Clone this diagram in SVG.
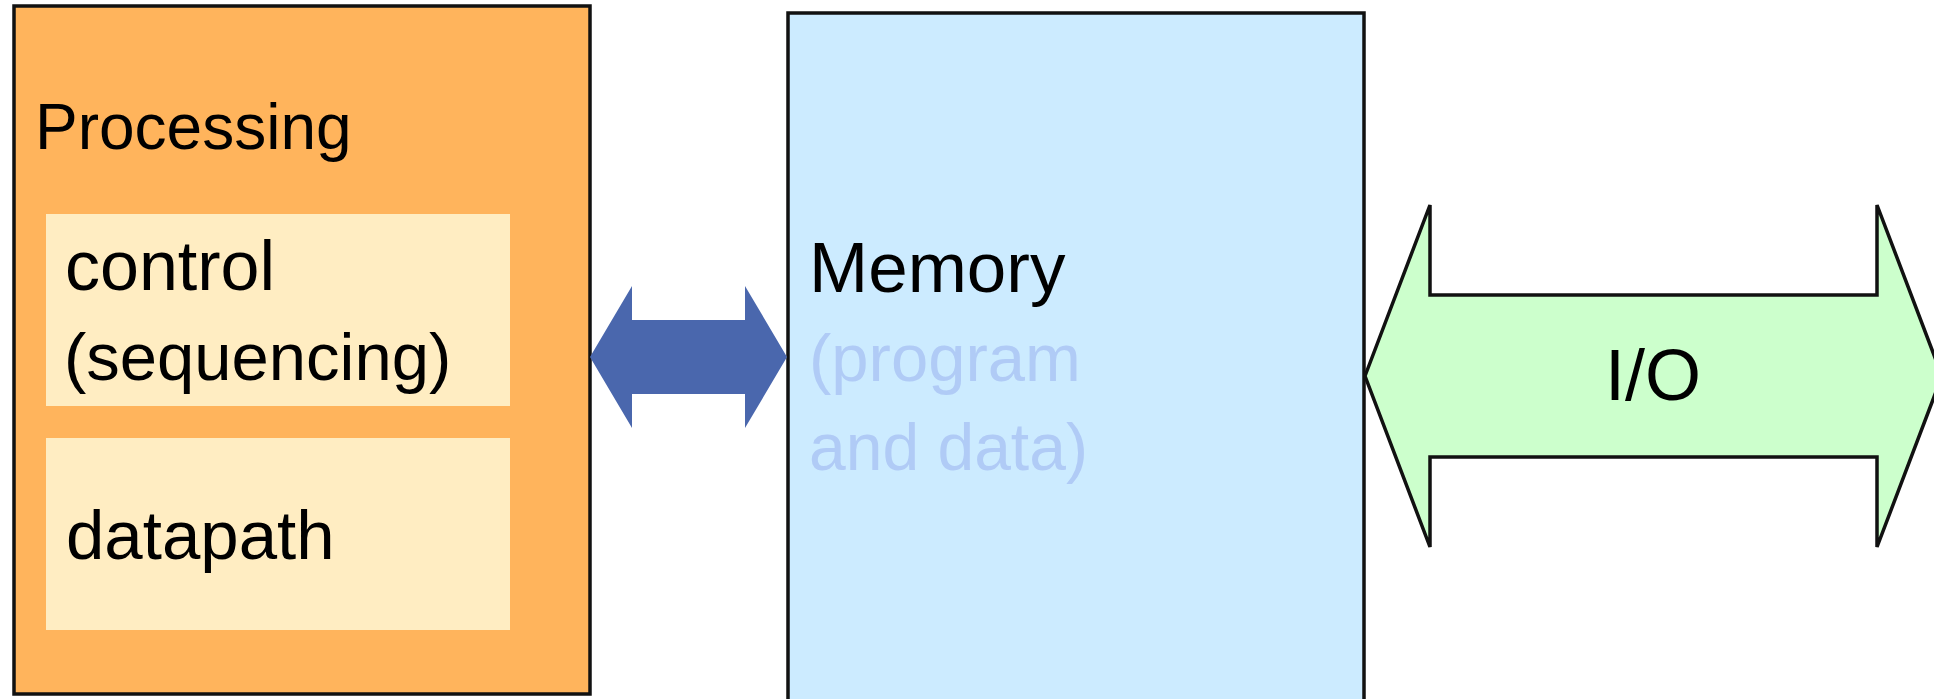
<svg xmlns="http://www.w3.org/2000/svg" width="1934" height="699" viewBox="0 0 1934 699">
  <style>
    .lbl { font-family: "Liberation Sans", Arial, sans-serif; fill: #000; }
    .box { stroke: #111; stroke-width: 3.5; }
    .sub { fill: #FFEDC2; stroke: none; }
    .faint { fill: #B0CBF6; }
  </style>
  <rect width="1934" height="699" fill="#fff"/>

  <!-- processing unit with its two sub-blocks -->
  <g id="processing">
    <rect class="box" x="14" y="6" width="576" height="688" fill="#FFB45C"/>
    <text class="lbl" x="35" y="149" font-size="64">Processing</text>
  </g>
  <g id="control">
    <rect class="sub" x="46" y="214" width="464" height="192"/>
    <text class="lbl" x="65" y="290" font-size="70">control</text>
    <text class="lbl" x="64" y="380" font-size="67">(sequencing)</text>
  </g>
  <g id="datapath">
    <rect class="sub" x="46" y="438" width="464" height="192"/>
    <text class="lbl" x="66" y="559" font-size="69">datapath</text>
  </g>

  <!-- memory block, open at the bottom edge -->
  <g id="memory">
    <rect class="box" x="788" y="13" width="576" height="700" fill="#CCEBFF"/>
    <text class="lbl" x="809" y="292" font-size="71">Memory</text>
    <text class="lbl faint" x="809" y="381" font-size="67">(program</text>
    <text class="lbl faint" x="809" y="470" font-size="66">and data)</text>
  </g>

  <!-- I/O double arrow, right tip runs off the edge -->
  <g id="io">
    <polygon class="box" fill="#CCFFCC" stroke-width="4" stroke-linejoin="miter"
      points="1365,376 1430,205 1430,295 1877,295 1877,205 1942,376 1877,547 1877,457 1430,457 1430,547"/>
    <text class="lbl" x="1653" y="400" font-size="72" text-anchor="middle">I/O</text>
  </g>

  <!-- bus between processing and memory -->
  <g id="connectors">
    <polygon fill="#4A67AD"
      points="590,357 632,286 632,320 745,320 745,286 787,357 745,428 745,394 632,394 632,428"/>
  </g>
</svg>
